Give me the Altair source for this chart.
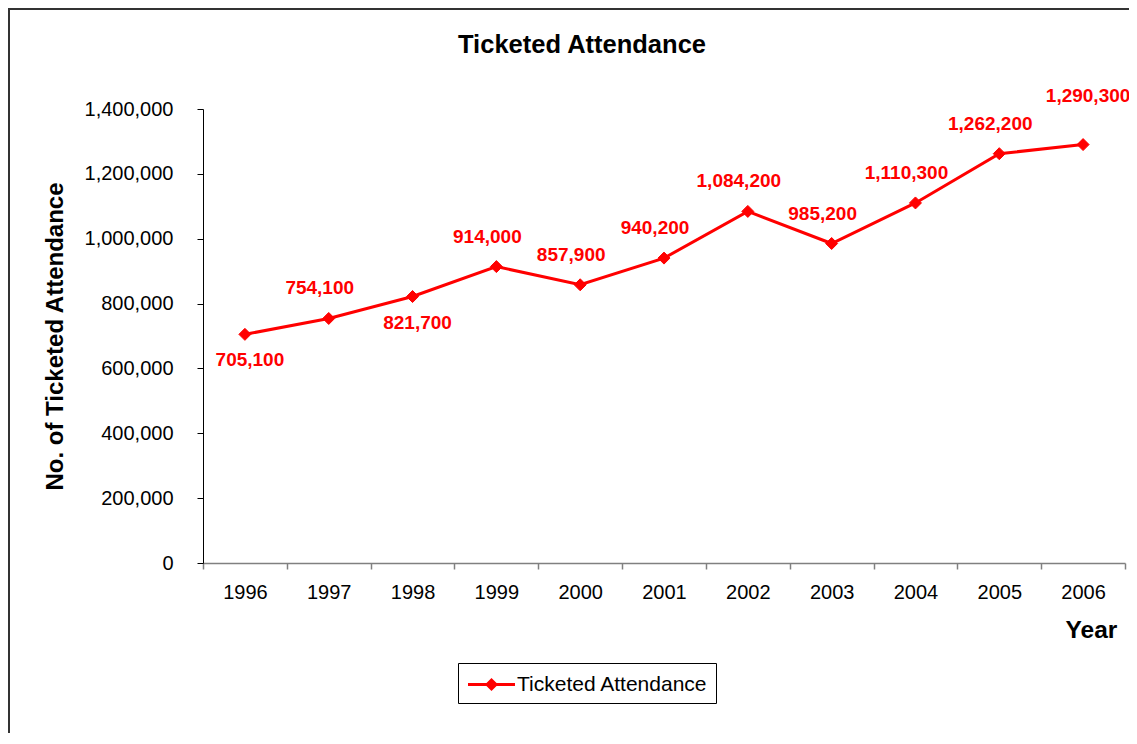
import altair as alt
import pandas as pd

# ---- data ----
years = ["1996", "1997", "1998", "1999", "2000", "2001", "2002", "2003", "2004", "2005", "2006"]
attendance = [705100, 754100, 821700, 914000, 857900, 940200, 1084200, 985200, 1110300, 1262200, 1290300]
label_place = ["below", "above", "below", "above", "above", "above", "above", "above", "above", "above", "high"]
series_name = "Ticketed Attendance"
y_ticks = [0, 200000, 400000, 600000, 800000, 1000000, 1200000, 1400000]

df = pd.DataFrame({
    "Year": years,
    "Attendance": attendance,
    "place": label_place,
    "series": [series_name] * len(years),
})

FONT = "Liberation Sans"
RED = "#FF0000"

x_enc = alt.X(
    "Year:O",
    scale=alt.Scale(type="band", paddingInner=0, paddingOuter=0),
    axis=alt.Axis(
        title="Year", titleFont=FONT, titleFontSize=24.5, titleFontWeight="bold", titleColor="black",
        titleX=888, titleY=74, titleAlign="center", titleBaseline="alphabetic", titleAngle=0,
        labelFont=FONT, labelFontSize=20, labelColor="black", labelAngle=0, labelPadding=13,
        tickBand="extent", tickSize=6, tickColor="#808080", domainColor="#808080",
        domainWidth=1.5, tickWidth=1.5, grid=False,
    ),
)
y_enc = alt.Y(
    "Attendance:Q",
    scale=alt.Scale(domain=[0, 1400000], nice=False, zero=True),
    axis=alt.Axis(
        title="No. of Ticketed Attendance", titleFont=FONT, titleFontSize=24, titleFontWeight="bold",
        titleColor="black", titleX=-141, titleY=227, titleAngle=270, titleAlign="center",
        titleBaseline="alphabetic",
        values=y_ticks, labelExpr="format(datum.value, ',')", labelFont=FONT, labelFontSize=20,
        labelColor="black", labelPadding=24, tickSize=6, tickColor="black", domainColor="black",
        grid=False,
    ),
)

base = alt.Chart(df).encode(x=x_enc, y=y_enc)

line = base.mark_line(color=RED, strokeWidth=3)

points = base.mark_point(
    shape="diamond", filled=True, size=144, opacity=1, stroke=RED, strokeWidth=1
).encode(
    color=alt.Color(
        "series:N",
        scale=alt.Scale(range=[RED]),
        legend=alt.Legend(
            title=None, orient="none", legendX=255, legendY=554, direction="vertical",
            labelFont=FONT, labelFontSize=21, labelColor="black", labelOffset=12, labelLimit=500,
            symbolType="M-2,0H2M-0.38,0L0,-0.38L0.38,0L0,0.38Z", symbolSize=552,
            symbolOffset=12, symbolStrokeWidth=3, symbolStrokeColor=RED, symbolFillColor=RED,
            symbolOpacity=1, fillColor="white", padding=8, cornerRadius=0,
        ),
    )
)

label_layers = []
for place, dx, dy in [("below", 5, 26), ("above", -9, -30), ("high", 5, -49)]:
    label_layers.append(
        base.transform_filter(alt.datum.place == place)
        .mark_text(font=FONT, fontSize=19, fontWeight="bold", color=RED, dx=dx, dy=dy,
                   baseline="middle")
        .encode(text=alt.Text("Attendance:Q", format=","))
    )

frame_df = pd.DataFrame({"k": [0]})
frame_top = alt.Chart(frame_df).mark_rule(color="#333333", strokeWidth=2).encode(
    x=alt.value(-195), x2=alt.value(940), y=alt.value(-100)
)
frame_left = alt.Chart(frame_df).mark_rule(color="#333333", strokeWidth=2).encode(
    x=alt.value(-194), y=alt.value(-101), y2=alt.value(640)
)

chart = alt.layer(frame_top, frame_left, line, points, *label_layers).properties(
    width=922,
    height=454,
    autosize=alt.AutoSizeParams(type="none"),
    padding={"left": 195, "top": 101, "right": 4, "bottom": 170},
    title=alt.TitleParams(
        "Ticketed Attendance", font=FONT, fontSize=25.5, fontWeight="bold", color="black",
        anchor="middle", frame="group", dx=-82, offset=-71, baseline="alphabetic",
    ),
).configure_view(stroke=None).configure_legend(strokeColor="black")

chart.save("out.html", embed_options={"renderer": "svg", "actions": False})
